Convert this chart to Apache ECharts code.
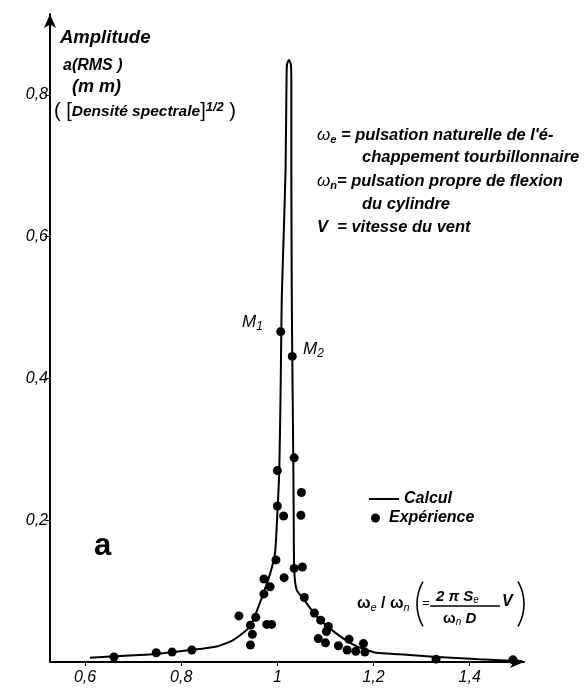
<!DOCTYPE html>
<html>
<head>
<meta charset="utf-8">
<script src="https://cdn.jsdelivr.net/npm/echarts@6/dist/echarts.min.js"></script>
<style>
  html, body { margin: 0; padding: 0; background: #fff; }
  #main { width: 584px; height: 692px; }
</style>
</head>
<body>
<div id="main"></div>
<script>
// tick values (labels written with a decimal comma)
var xTicks = [0.6, 0.8, 1, 1.2, 1.4];
var yTicks = [0.2, 0.4, 0.6, 0.8];

// computed curve (Calcul): [omega_e/omega_n, amplitude]
var calcul = [
    [0.61, 0.006], [0.66, 0.008], [0.74, 0.011], [0.82, 0.017], [0.874, 0.022],
    [0.908, 0.031], [0.943, 0.050], [0.971, 0.097], [0.985, 0.125], [0.995, 0.153],
    [1.000, 0.210], [1.004, 0.271], [1.007, 0.398], [1.009, 0.51], [1.013, 0.60],
    [1.017, 0.694], [1.019, 0.82], [1.020, 0.843], [1.024, 0.849], [1.028, 0.843],
    [1.029, 0.82], [1.029, 0.694], [1.030, 0.51], [1.031, 0.43], [1.033, 0.29],
    [1.034, 0.20], [1.035, 0.13], [1.040, 0.102], [1.054, 0.089], [1.082, 0.064],
    [1.123, 0.040], [1.165, 0.022], [1.206, 0.013], [1.255, 0.011], [1.324, 0.0075],
    [1.42, 0.004], [1.51, 0.001]
];

// measured points (Expérience)
var experience = [
    [0.66, 0.007], [0.748, 0.013], [0.781, 0.014], [0.822, 0.017],
    [0.920, 0.065], [0.944, 0.024], [0.948, 0.039], [0.944, 0.052], [0.955, 0.063],
    [0.972, 0.096], [0.972, 0.117], [0.978, 0.053], [0.988, 0.053], [0.985, 0.106],
    [0.997, 0.144], [1.000, 0.220], [1.000, 0.270], [1.007, 0.466], [1.013, 0.206],
    [1.014, 0.119], [1.031, 0.431], [1.035, 0.288], [1.035, 0.132], [1.049, 0.207],
    [1.050, 0.239], [1.052, 0.134], [1.056, 0.091], [1.077, 0.069], [1.090, 0.059],
    [1.106, 0.050], [1.102, 0.043], [1.085, 0.033], [1.100, 0.027], [1.127, 0.023],
    [1.149, 0.032], [1.145, 0.017], [1.163, 0.015], [1.179, 0.026], [1.182, 0.014],
    [1.33, 0.004], [1.49, 0.003]
];

var FONT = 'Liberation Sans';
var myChart = echarts.init(document.getElementById('main'), null, {renderer: 'canvas'});

function comma(v) {
    return String(v).replace('.', ',');
}

var sub = {fontFamily: FONT, fontStyle: 'italic', fontWeight: 'bold', fontSize: 11, fill: '#000', padding: [9, 0, 0, 0]};
var body = {fontFamily: FONT, fontStyle: 'italic', fontWeight: 'bold', fontSize: 16.5, fill: '#000'};
var omega = {fontFamily: FONT, fontStyle: 'italic', fontSize: 17, fill: '#000'};

var option = {
    backgroundColor: '#fff',
    animation: false,
    grid: {left: 50, right: 60, top: 14, bottom: 30, outerBoundsMode: 'none'},
    xAxis: {
        type: 'value',
        min: 0.527,
        max: 1.513,
        splitLine: {show: false},
        axisLine: {lineStyle: {color: '#000', width: 2}, symbol: ['none', 'arrow'], symbolSize: [9, 14]},
        axisTick: {show: true, length: 4, lineStyle: {color: '#000', width: 1}, customValues: xTicks},
        axisLabel: {
            customValues: xTicks, color: '#000', fontFamily: FONT, fontStyle: 'italic',
            fontSize: 16, margin: 8, formatter: comma
        }
    },
    yAxis: {
        type: 'value',
        min: 0,
        max: 0.914,
        splitLine: {show: false},
        axisLine: {lineStyle: {color: '#000', width: 2}, symbol: ['none', 'arrow'], symbolSize: [9, 14]},
        axisTick: {show: true, length: 5, lineStyle: {color: '#000', width: 1}, customValues: yTicks},
        axisLabel: {
            customValues: yTicks, color: '#000', fontFamily: FONT, fontStyle: 'italic',
            fontSize: 16, margin: 2, formatter: comma
        }
    },
    legend: [{
        data: ['Calcul'], left: 364, top: 486, icon: 'rect', itemWidth: 30, itemHeight: 2, itemGap: 0,
        textStyle: {fontFamily: FONT, fontStyle: 'italic', fontWeight: 'bold', fontSize: 16, color: '#000'}
    }, {
        data: ['Expérience'], left: 366, top: 505, icon: 'circle', itemWidth: 9, itemHeight: 9, itemGap: 0,
        textStyle: {fontFamily: FONT, fontStyle: 'italic', fontWeight: 'bold', fontSize: 16, color: '#000', padding: [0, 0, 0, 4]}
    }],
    graphic: [
        {type: 'text', x: 60, y: 28, style: {text: 'Amplitude', fontFamily: FONT, fontStyle: 'italic', fontWeight: 'bold', fontSize: 18.5, fill: '#000'}},
        {type: 'text', x: 63, y: 58, style: {text: 'a(RMS )', fontFamily: FONT, fontStyle: 'italic', fontWeight: 'bold', fontSize: 16, fill: '#000'}},
        {type: 'text', x: 72, y: 78, style: {text: '(m m)', fontFamily: FONT, fontStyle: 'italic', fontWeight: 'bold', fontSize: 18, fill: '#000'}},
        {type: 'text', x: 54, y: 101, style: {
            text: '{p|( [}{t|Densité spectrale}{p|]}{s|1/2}{p| )}',
            rich: {
                p: {fontFamily: FONT, fontSize: 20, fill: '#000', verticalAlign: 'bottom'},
                t: {fontFamily: FONT, fontStyle: 'italic', fontWeight: 'bold', fontSize: 15.5, fill: '#000', verticalAlign: 'bottom', padding: [0, 0, 1, 0]},
                s: {fontFamily: FONT, fontStyle: 'italic', fontWeight: 'bold', fontSize: 13, fill: '#000', verticalAlign: 'top'}
            }
        }},
        // notation block
        {type: 'text', x: 317, y: 125, style: {
            text: '{w|ω}{s|e}{t| = pulsation naturelle de l\'é-}',
            rich: {w: omega, s: sub, t: body}
        }},
        {type: 'text', x: 362, y: 149, style: Object.assign({text: 'chappement tourbillonnaire'}, body)},
        {type: 'text', x: 317, y: 171, style: {
            text: '{w|ω}{s|n}{t|= pulsation propre de flexion}',
            rich: {w: omega, s: sub, t: body}
        }},
        {type: 'text', x: 362, y: 196, style: Object.assign({text: 'du cylindre'}, body)},
        {type: 'text', x: 317, y: 219, style: Object.assign({text: 'V  = vitesse du vent'}, body)},
        // M1 / M2
        {type: 'text', x: 242, y: 312, style: {
            text: '{m|M}{s|1}',
            rich: {
                m: {fontFamily: FONT, fontStyle: 'italic', fontSize: 17, fill: '#000'},
                s: {fontFamily: FONT, fontStyle: 'italic', fontSize: 12, fill: '#000', padding: [9, 0, 0, 0]}
            }
        }},
        {type: 'text', x: 303, y: 339, style: {
            text: '{m|M}{s|2}',
            rich: {
                m: {fontFamily: FONT, fontStyle: 'italic', fontSize: 17, fill: '#000'},
                s: {fontFamily: FONT, fontStyle: 'italic', fontSize: 12, fill: '#000', padding: [9, 0, 0, 0]}
            }
        }},
        {type: 'text', x: 94, y: 531, style: {text: 'a', fontFamily: FONT, fontWeight: 'bold', fontSize: 31, fill: '#000'}},
        // abscissa formula
        {type: 'text', x: 357, y: 594, style: {
            text: '{w|ω}{s|e}{w| / ω}{s|n}',
            rich: {
                w: {fontFamily: FONT, fontSize: 16, fontWeight: 'bold', fill: '#000'},
                s: {fontFamily: FONT, fontStyle: 'italic', fontSize: 11, fill: '#000', padding: [8, 0, 0, 0]}
            }
        }},
        {type: 'arc', shape: {cx: 462, cy: 604, r: 45, startAngle: Math.PI - 0.52, endAngle: Math.PI + 0.52}, style: {stroke: '#000', lineWidth: 1.6, fill: null}},
        {type: 'text', x: 422, y: 597, style: {text: '=', fontFamily: FONT, fontSize: 13, fill: '#000'}},
        {type: 'text', x: 436, y: 589, style: {
            text: '{t|2 π S}{s|e}',
            rich: {
                t: {fontFamily: FONT, fontStyle: 'italic', fontWeight: 'bold', fontSize: 15, fill: '#000'},
                s: {fontFamily: FONT, fontStyle: 'italic', fontSize: 10, fill: '#000', padding: [6, 0, 0, 0]}
            }
        }},
        {type: 'line', shape: {x1: 430, y1: 606, x2: 500, y2: 606}, style: {stroke: '#000', lineWidth: 1.5}},
        {type: 'text', x: 443, y: 610, style: {
            text: '{w|ω}{s|n}{t| D}',
            rich: {
                w: {fontFamily: FONT, fontSize: 15, fontWeight: 'bold', fill: '#000'},
                s: {fontFamily: FONT, fontStyle: 'italic', fontSize: 10, fill: '#000', padding: [7, 0, 0, 0]},
                t: {fontFamily: FONT, fontStyle: 'italic', fontWeight: 'bold', fontSize: 15, fill: '#000'}
            }
        }},
        {type: 'text', x: 502, y: 594, style: {text: 'V', fontFamily: FONT, fontStyle: 'italic', fontWeight: 'bold', fontSize: 16, fill: '#000'}},
        {type: 'arc', shape: {cx: 479, cy: 604, r: 45, startAngle: -0.52, endAngle: 0.52}, style: {stroke: '#000', lineWidth: 1.6, fill: null}}
    ],
    series: [{
        name: 'Calcul',
        type: 'line',
        data: calcul,
        symbol: 'none',
        smooth: 0.2,
        lineStyle: {color: '#000', width: 2},
        itemStyle: {color: '#000'},
        z: 2
    }, {
        name: 'Expérience',
        type: 'scatter',
        data: experience,
        symbol: 'circle',
        symbolSize: 9,
        itemStyle: {color: '#000', opacity: 1},
        z: 3
    }]
};
myChart.setOption(option);
</script>
</body>
</html>
